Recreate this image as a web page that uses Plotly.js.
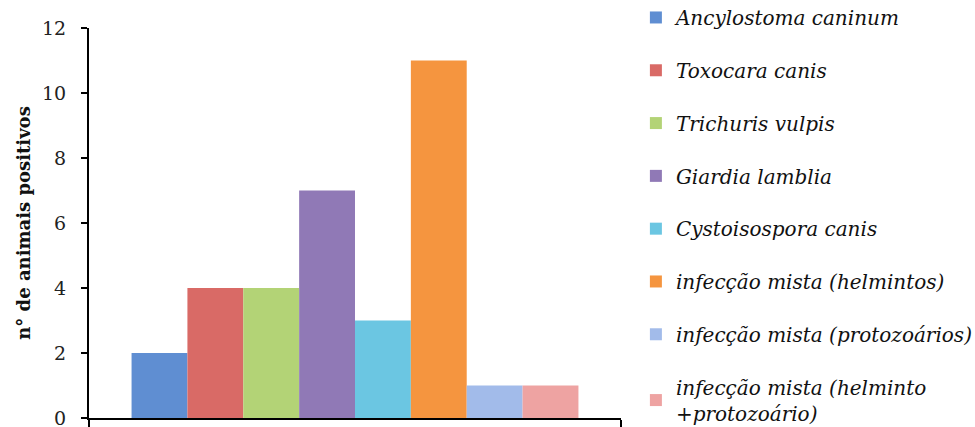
<!DOCTYPE html>
<html>
<head>
<meta charset="utf-8">
<script src="https://cdn.plot.ly/plotly-3.0.1.min.js"></script>
<style>html,body{margin:0;padding:0;background:#fff;}#chart{width:975px;height:427px;}</style>
</head>
<body>
<div id="chart"></div>
<script>
const categories = ['parasitos'];
const seriesNames = [
  'Ancylostoma caninum',
  'Toxocara canis',
  'Trichuris vulpis',
  'Giardia lamblia',
  'Cystoisospora canis',
  'infecção mista (helmintos)',
  'infecção mista (protozoários)',
  'infecção mista (helminto<br>+protozoário)'
];
const seriesValues = [2, 4, 4, 7, 3, 11, 1, 1];
const seriesColors = ['#5f8ed2', '#d96a66', '#b3d376', '#9079b6', '#6bc6e2', '#f5953f', '#a2bbea', '#eea3a2'];
const yTicks = [0, 2, 4, 6, 8, 10, 12];

const traces = seriesNames.map((name, i) => ({
  type: 'bar',
  name: name,
  x: categories,
  y: [seriesValues[i]],
  legendgroup: 'g' + i,
  marker: {color: seriesColors[i], line: {width: 0}},
  hoverinfo: 'name+y'
}));

const layout = {
  width: 975, height: 427,
  margin: {l: 89, r: 354, t: 28, b: 9, autoexpand: false},
  paper_bgcolor: '#fff', plot_bgcolor: '#fff',
  barmode: 'group', bargap: 0.16, bargroupgap: 0,
  font: {family: 'DejaVu Serif, serif', color: '#222'},
  xaxis: {
    type: 'category', showticklabels: false, tickson: 'boundaries',
    ticks: 'outside', ticklen: 7, tickwidth: 2, tickcolor: '#000',
    showline: true, linecolor: '#000', linewidth: 2, showgrid: false, zeroline: false,
    fixedrange: true
  },
  yaxis: {
    range: [0, 12], tickvals: yTicks, ticks: 'outside', ticklen: 6, tickwidth: 2, tickcolor: '#000',
    showline: true, linecolor: '#000', linewidth: 2, showgrid: false, zeroline: false,
    ticklabeloverflow: 'allow', ticklabelstandoff: 11,
    tickfont: {size: 19, family: 'DejaVu Serif, serif', color: '#222'},
    title: {text: 'n° de animais positivos', font: {size: 18, family: 'DejaVu Serif, serif', weight: 'bold', color: '#111'}, standoff: 7}
  },
  legend: {
    x: 1.028, xanchor: 'left', y: 1.077, yanchor: 'top',
    font: {size: 20, family: 'DejaVu Serif, serif', style: 'italic', color: '#111'},
    tracegroupgap: 23.8, traceorder: 'grouped', maxheight: 1000, bgcolor: 'rgba(0,0,0,0)'
  },
  showlegend: true
};

Plotly.newPlot('chart', traces, layout, {displayModeBar: false, staticPlot: true});
</script>
</body>
</html>
